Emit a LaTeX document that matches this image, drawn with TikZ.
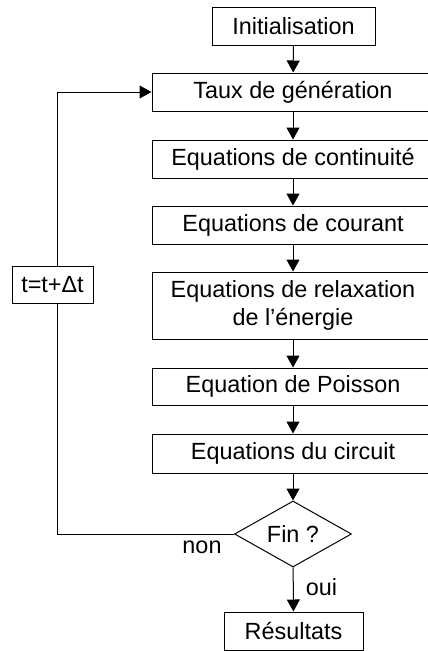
\documentclass[tikz,border=0pt]{standalone}
\usepackage{fontspec}
\setmainfont{Liberation Sans}
\usetikzlibrary{arrows.meta,shapes.geometric}
\begin{document}
\begin{tikzpicture}[x=1pt,y=-1pt,line width=1pt,
  every node/.style={font=\fontsize{23.4}{28}\selectfont, inner sep=0pt},
  box/.style={draw, rectangle, minimum height=38pt, align=center},
  wide/.style={box, minimum width=282pt},
  arr/.style={-{Triangle[length=12pt,width=13pt]}},
  lab/.style={}]
\useasboundingbox (0,0) rectangle (428,651);
\clip (0,0) rectangle (428,651);
\node[box, minimum width=163pt] (init) at (293.5,26) {Initialisation};
\node[wide] (taux) at (293,92) {Taux de génération};
\node[wide] (cont) at (293,159) {Equations de continuité};
\node[wide] (cour) at (293,225) {Equations de courant};
\node[wide, minimum height=67pt] (relax) at (293,305.5) {Equations de relaxation\\de l’énergie};
\node[wide, minimum height=37pt] (pois) at (293,386.5) {Equation de Poisson};
\node[wide, minimum height=39pt] (circ) at (293,453.5) {Equations du circuit};
\node[draw, diamond, aspect=1.77, minimum width=117pt, minimum height=66pt] (fin) at (293,534) {Fin ?};
\node[box, minimum width=139pt] (res) at (293.5,631) {Résultats};
\node[box, minimum width=81pt, minimum height=37pt] (tbox) at (52.5,284.5) {t=t+Δt};
\node[lab] (non) at (202,547) {non};
\node[lab] (oui) at (321.5,587) {oui};
\coordinate (c1) at (57,534);
\draw[arr] (init) -- (taux);
\draw[arr] (taux) -- (cont);
\draw[arr] (cont) -- (cour);
\draw[arr] (cour) -- (relax);
\draw[arr] (relax) -- (pois);
\draw[arr] (pois) -- (circ);
\draw[arr] (circ) -- (fin);
\draw[arr] (fin) -- (res);
\draw (fin.west) -- (c1) -- (tbox.south -| c1);
\draw[arr] (tbox.north -| c1) |- (taux.west);
\end{tikzpicture}
\end{document}
